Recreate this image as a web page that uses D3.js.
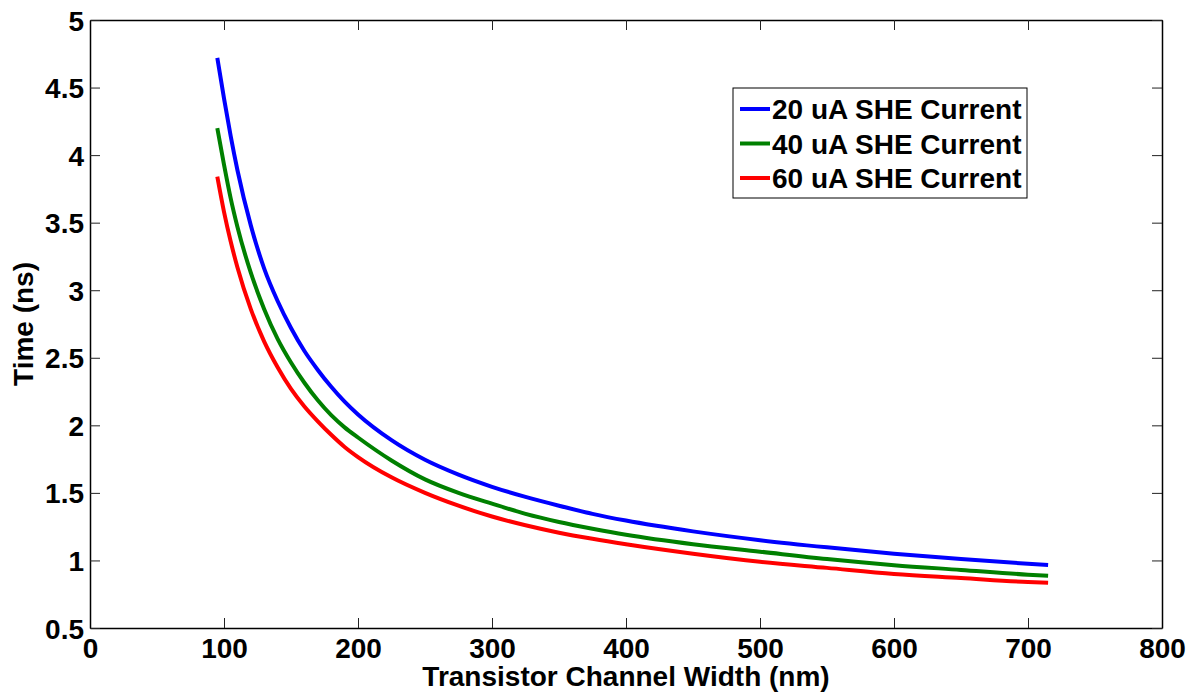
<!DOCTYPE html>
<html>
<head>
<meta charset="utf-8">
<script src="https://cdn.jsdelivr.net/npm/d3@7"></script>
<style>
  body { margin: 0; background: #fff; }
  text { font-family: "Liberation Sans", Arial, sans-serif; font-weight: bold; fill: #000; }
</style>
</head>
<body>
<script>
// channel width (nm)
const widths = [95, 100, 105, 110, 120, 130, 140, 150, 160, 170, 180, 190, 200, 225, 250,
                275, 300, 325, 350, 375, 400, 450, 500, 550, 600, 650, 700, 715];

// time (ns) for each SHE current
const time20 = [4.72, 4.42, 4.14, 3.89, 3.48, 3.16, 2.92, 2.72, 2.55, 2.41, 2.285, 2.175, 2.08, 1.89, 1.745,
                1.635, 1.545, 1.47, 1.405, 1.345, 1.295, 1.215, 1.15, 1.097, 1.05, 1.01, 0.975, 0.966];
const time40 = [4.20, 3.93, 3.68, 3.47, 3.13, 2.86, 2.64, 2.465, 2.315, 2.185, 2.075, 1.985, 1.91, 1.74, 1.60,
                1.50, 1.42, 1.345, 1.285, 1.235, 1.19, 1.12, 1.065, 1.01, 0.965, 0.93, 0.895, 0.887];
const time60 = [3.84, 3.58, 3.36, 3.17, 2.86, 2.62, 2.43, 2.27, 2.14, 2.03, 1.93, 1.84, 1.765, 1.615, 1.50,
                1.405, 1.325, 1.26, 1.205, 1.16, 1.12, 1.05, 0.99, 0.945, 0.90, 0.87, 0.84, 0.835];

const seriesNames = ['20 uA SHE Current', '40 uA SHE Current', '60 uA SHE Current'];
const seriesColors = ['#0000ff', '#008000', '#ff0000'];

const xTicks = [0, 100, 200, 300, 400, 500, 600, 700, 800];
const yTicks = [0.5, 1, 1.5, 2, 2.5, 3, 3.5, 4, 4.5, 5];

window.onload = () => {
    const width = 1194;
    const height = 696;
    const margin = { left: 90, top: 20, right: 32, bottom: 68 };
    const fontSize = 28;
    const tickLen = 10;

    const svg = d3.select('body')
                  .append('svg')
                  .attr('width', width)
                  .attr('height', height);

    const x = d3.scaleLinear()
                .domain([0, 800])
                .range([margin.left, width - margin.right]);
    const y = d3.scaleLinear()
                .domain([0.5, 5])
                .range([height - margin.bottom, margin.top]);

    const series = [time20, time40, time60].map((vals, i) => ({
        name: seriesNames[i],
        color: seriesColors[i],
        points: widths.map((w, j) => [w, vals[j]])
    }));

    const line = d3.line()
                   .x(d => x(d[0]))
                   .y(d => y(d[1]))
                   .curve(d3.curveMonotoneX);

    // curves
    svg.selectAll('.curve')
       .data(series)
       .enter()
       .append('path')
       .attr('class', 'curve')
       .attr('d', d => line(d.points))
       .style('fill', 'none')
       .style('stroke', d => d.color)
       .style('stroke-width', 4);

    // axes: ticks inward on all four sides
    const bottom = svg.append('g')
        .attr('transform', `translate(0,${y.range()[0]})`)
        .call(d3.axisBottom(x).tickValues(xTicks).tickSizeInner(-tickLen).tickSizeOuter(0).tickPadding(10));
    const top = svg.append('g')
        .attr('transform', `translate(0,${y.range()[1]})`)
        .call(d3.axisTop(x).tickValues(xTicks).tickSizeInner(-tickLen).tickSizeOuter(0).tickFormat(''));
    const left = svg.append('g')
        .attr('transform', `translate(${x.range()[0]},0)`)
        .call(d3.axisLeft(y).tickValues(yTicks).tickSizeInner(-tickLen).tickSizeOuter(0)
              .tickPadding(6).tickFormat(d3.format('')));
    const right = svg.append('g')
        .attr('transform', `translate(${x.range()[1]},0)`)
        .call(d3.axisRight(y).tickValues(yTicks).tickSizeInner(-tickLen).tickSizeOuter(0).tickFormat(''));

    [bottom, top, left, right].forEach(g => {
        g.select('.domain').style('stroke', '#000').style('stroke-width', 1.5);
        g.selectAll('.tick line').style('stroke', '#222').style('stroke-width', 1);
        g.selectAll('text')
         .style('font-family', '"Liberation Sans", Arial, sans-serif')
         .style('font-weight', 'bold')
         .style('font-size', fontSize + 'px')
         .style('fill', '#000');
    });
    left.selectAll('.tick text').attr('dy', '0.36em');
    bottom.selectAll('.tick text').attr('dy', '0.7em');

    // axis titles
    svg.append('text')
       .text('Transistor Channel Width (nm)')
       .attr('x', (x.range()[0] + x.range()[1]) / 2)
       .attr('y', 686)
       .attr('text-anchor', 'middle')
       .style('font-size', fontSize + 'px');

    svg.append('text')
       .text('Time (ns)')
       .attr('transform', `translate(33,${(y.range()[0] + y.range()[1]) / 2}) rotate(-90)`)
       .attr('text-anchor', 'middle')
       .style('font-size', fontSize + 'px');

    // legend
    const lg = svg.append('g')
        .attr('transform', 'translate(733,88)');
    lg.append('rect')
      .attr('width', 294)
      .attr('height', 110)
      .style('fill', '#fff')
      .style('stroke', '#000')
      .style('stroke-width', 1);

    const items = lg.selectAll('.item')
        .data(series)
        .enter()
        .append('g')
        .attr('class', 'item')
        .attr('transform', (d, i) => `translate(0,${21 + i * 34.5})`);
    items.append('line')
         .attr('x1', 7)
         .attr('x2', 37)
         .style('stroke', d => d.color)
         .style('stroke-width', 4);
    items.append('text')
         .text(d => d.name)
         .attr('x', 39)
         .attr('dy', '0.36em')
         .style('font-size', fontSize + 'px');
};
</script>
</body>
</html>
